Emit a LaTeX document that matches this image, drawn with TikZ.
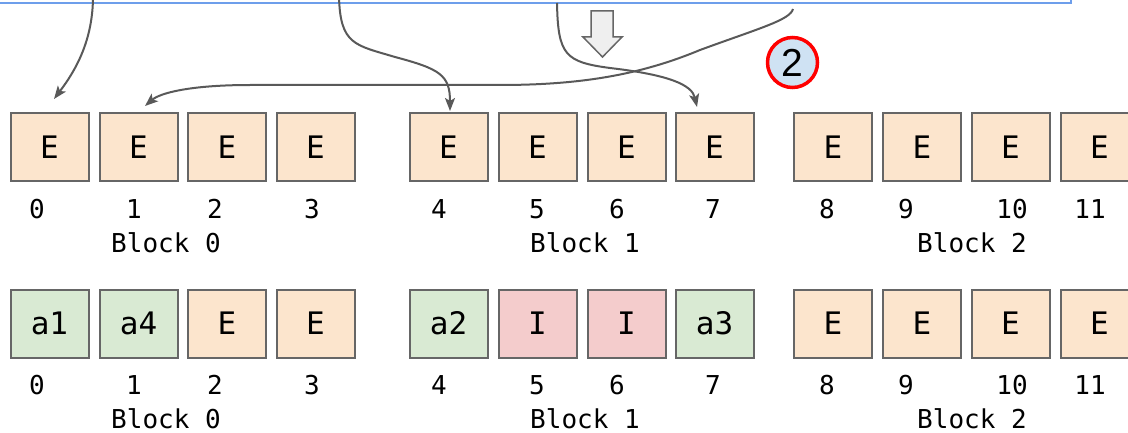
\documentclass[tikz,border=0pt]{standalone}
\usepackage{fontspec}
\setmonofont{DejaVu Sans Mono}
\newfontfamily\badgefont{Liberation Sans}
\usepackage{tikz}
\usetikzlibrary{positioning, arrows.meta, calc}
\definecolor{cellempty}{HTML}{FCE5CD}
\definecolor{cellalloc}{HTML}{D9EAD3}
\definecolor{cellinval}{HTML}{F4CCCC}
\definecolor{edgegray}{HTML}{666666}
\definecolor{linkgray}{HTML}{595959}
\definecolor{frameblue}{HTML}{6D9EEB}
\definecolor{badgeblue}{HTML}{CFE2F3}
\definecolor{hintgray}{HTML}{EFEFEF}

\begin{document}
\begin{tikzpicture}[
			x=0.5pt, y=-0.5pt,
			font=\ttfamily,
			cell/.style={draw=edgegray, line width=1pt, minimum width=39pt, minimum height=34pt, inner sep=0pt,
				font=\ttfamily\fontsize{15.5}{15.5}\selectfont},
			emptycell/.style={cell, fill=cellempty},
			alloccell/.style={cell, fill=cellalloc},
			invcell/.style={cell, fill=cellinval},
			idx/.style={inner sep=0pt, anchor=base, font=\ttfamily\fontsize{13}{13}\selectfont},
			link/.style={draw=linkgray, line width=1pt, -{Stealth[length=6.5pt, width=5pt, inset=1.5pt]}},
			badge/.style={circle, draw=red, line width=1.75pt, fill=badgeblue, minimum size=25pt, inner sep=0pt,
				font=\badgefont\fontsize{19.5}{19.5}\selectfont}]
			
			\useasboundingbox (0,0) rectangle (1128,433);
			
			% table frame (cut at the top)
			\draw[draw=frameblue, line width=1.25pt] (-10,-60) rectangle (1071,3);
			\coordinate (s0) at (93,-4);
			\coordinate (s1) at (339,-4);
			\coordinate (s2) at (557,3);
			\coordinate (s3) at (793,9);
			
			% blocks before
			\foreach \x [count=\i from 0] in {49.5,138.5,227,315.5,448.5,537.5,626.5,714.5,833,922,1010.5,1099.5}
				\node[emptycell] (e\i) at (\x,147) {E};
			
			% blocks after
			\foreach \x/\t/\s [count=\i from 0] in {49.5/a1/alloccell, 138.5/a4/alloccell, 227/E/emptycell, 315.5/E/emptycell,
				448.5/a2/alloccell, 537.5/I/invcell, 626.5/I/invcell, 714.5/a3/alloccell,
				833/E/emptycell, 922/E/emptycell, 1010.5/E/emptycell, 1099.5/E/emptycell}
				\node[\s] (b\i) at (\x,323.5) {\t};
			
			% slot numbers
			\foreach \x [count=\i from 0] in {37,134,215,312,439,537,617,713,827,906,1012,1090} {
				\node[idx] (tn\i) at (\x,218) {\i};
				\node[idx] (bn\i) at (\x,394) {\i};
			}
			\foreach \x [count=\k from 0] in {166,585,972} {
				\node[idx] (tblk\k) at (\x,252) {Block \k};
				\node[idx] (bblk\k) at (\x,428) {Block \k};
			}
			
			% hint arrow and step badge
			\draw[draw=edgegray, line width=0.75pt, fill=hintgray]
				(591,11) -- (613,11) -- (613,37) -- (622,37) -- (602.5,57) -- (583,37) -- (591,37) -- cycle;
			\node[badge] (step2) at (792.5,62.5) {2};
			
			% mapping
			\draw[link] (s0) .. controls (93,40) and (76,70) .. ($(e0.north)+(4.5,-13)$);
			\draw[link] (s1) .. controls (340,45) and (355,45) .. (395,57)
				.. controls (440,69) and (450,75) .. ($(e4.north)+(1.5,-1)$);
			\draw[link] (s3) .. controls (790,20) and (760,28) .. (700,50)
				.. controls (640,75) and (580,85) .. (500,85) -- (250,85)
				.. controls (190,85) and (160,93) .. ($(e1.north)+(6.5,-6)$);
			\draw[link] (s2) .. controls (558,55) and (565,62) .. (610,68)
				.. controls (670,75) and (692,85) .. ($(e7.north)+(-17.5,-5)$);
		\end{tikzpicture}
\end{document}
